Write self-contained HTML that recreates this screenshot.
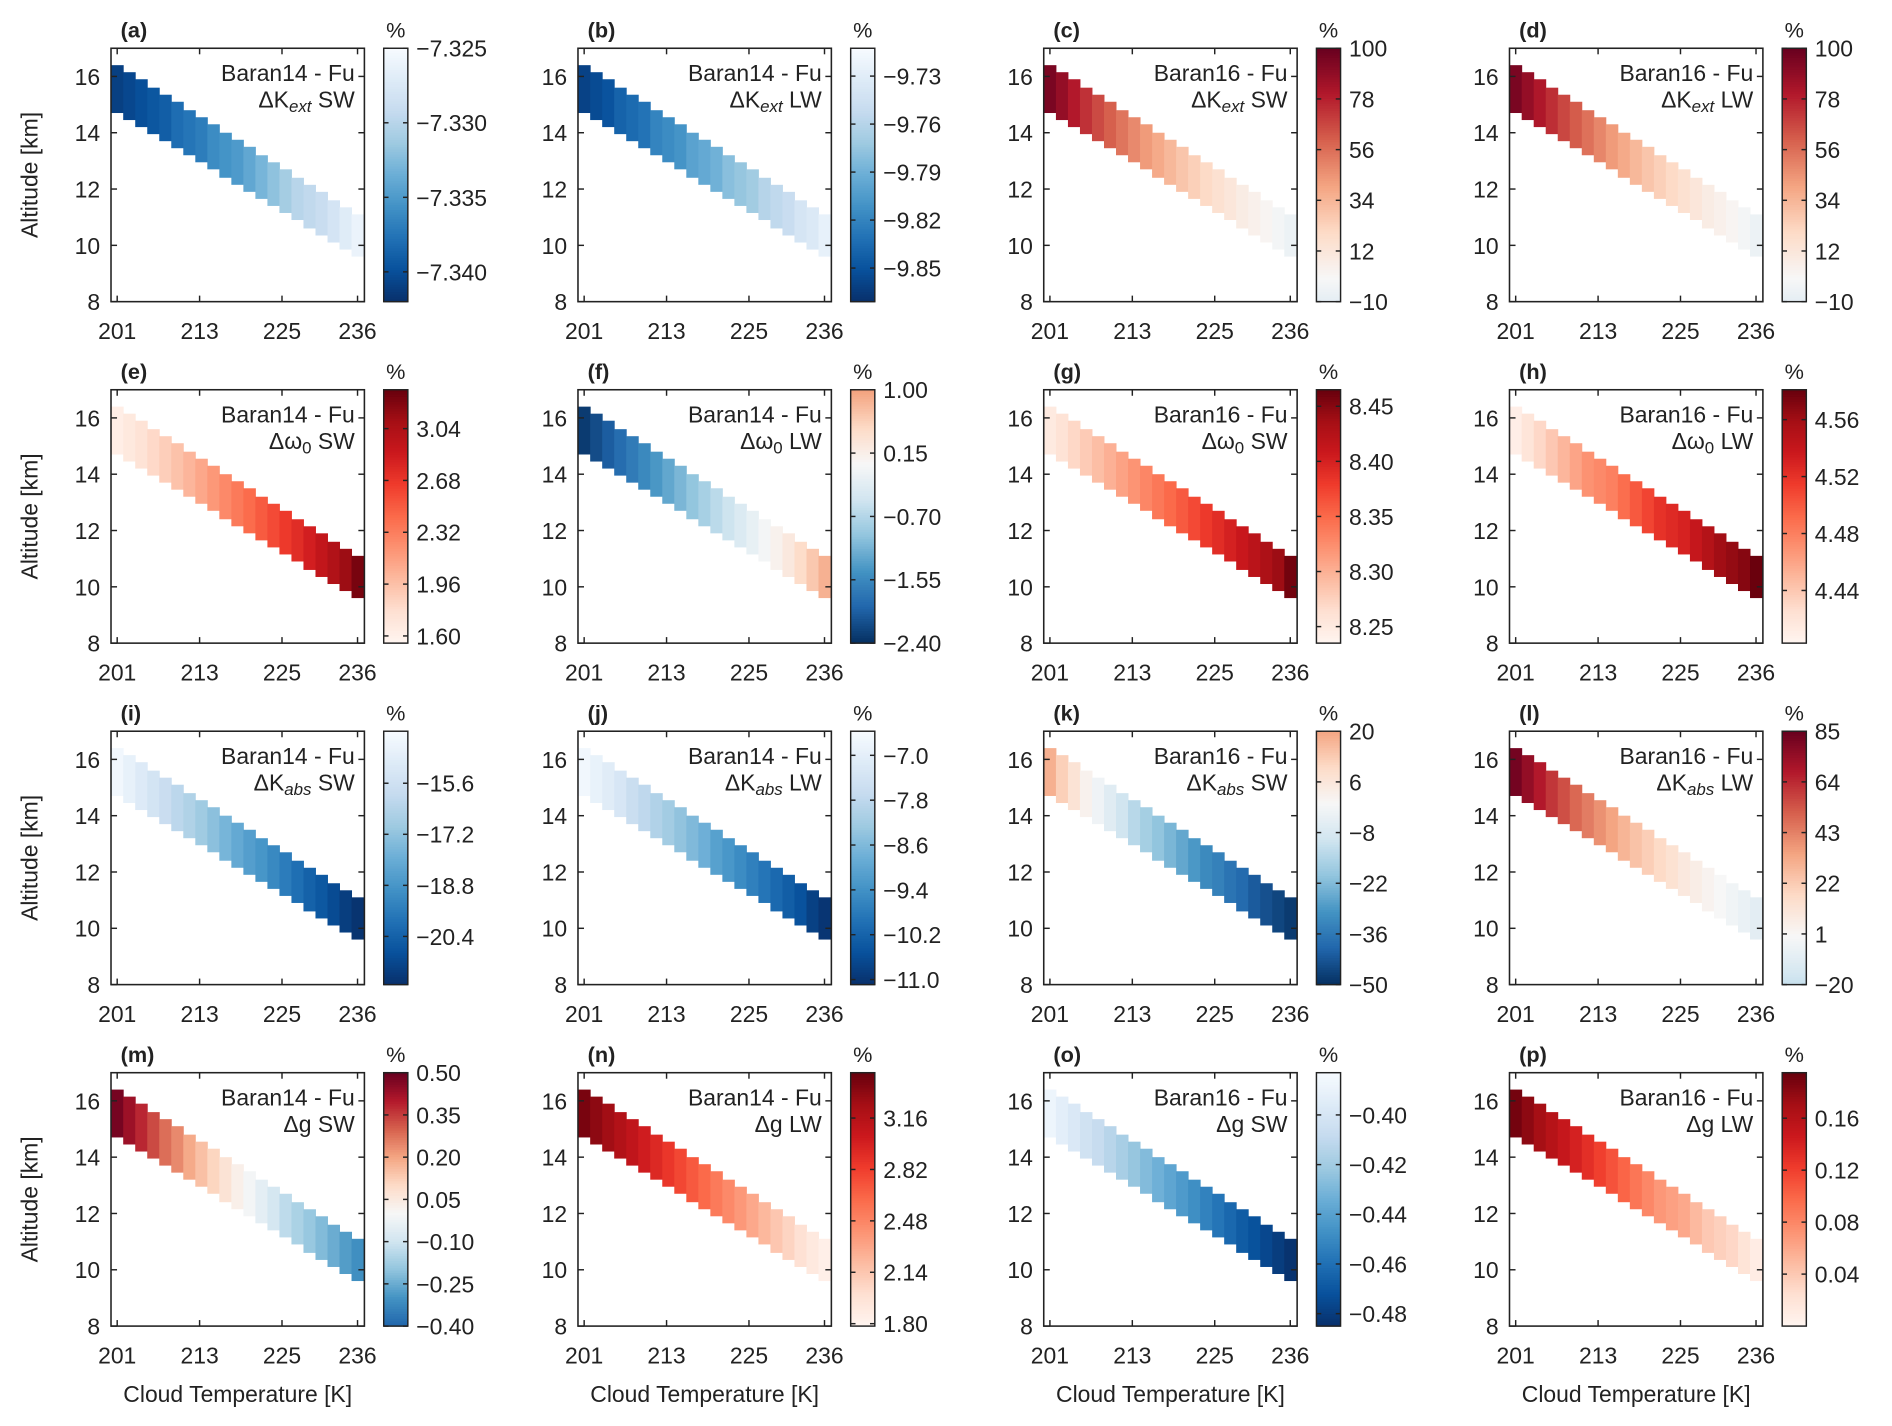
<!DOCTYPE html>
<html><head><meta charset="utf-8"><style>
html,body{margin:0;padding:0;background:#fff}
svg{display:block;font-family:"Liberation Sans",Arial,sans-serif}
</style></head><body>
<svg id="fig" width="1892" height="1426" viewBox="0 0 1568 1181.8" preserveAspectRatio="none" xmlns="http://www.w3.org/2000/svg"></svg>
<script>
// ---- data ----
const colTemps = [201,202.75,204.5,206.25,208,209.75,211.5,213.25,215,216.75,218.5,220.25,222,223.75,225.5,227.25,229,230.75,232.5,234.25,236];
const altTop = [16.4,16.15,15.9,15.6,15.35,15.1,14.8,14.55,14.3,14.0,13.75,13.5,13.2,12.95,12.7,12.4,12.15,11.9,11.6,11.35,11.1];
const altBot = [14.7,14.45,14.2,13.95,13.7,13.45,13.2,12.95,12.7,12.4,12.15,11.9,11.65,11.4,11.15,10.9,10.6,10.35,10.1,9.85,9.6];
const xTicks = [201,213,225,236];
const yTicks = [8,10,12,14,16];
const panelLetters = ['a','b','c','d','e','f','g','h','i','j','k','l','m','n','o','p'];
const panelModels = ['Baran14 - Fu','Baran14 - Fu','Baran16 - Fu','Baran16 - Fu','Baran14 - Fu','Baran14 - Fu','Baran16 - Fu','Baran16 - Fu','Baran14 - Fu','Baran14 - Fu','Baran16 - Fu','Baran16 - Fu','Baran14 - Fu','Baran14 - Fu','Baran16 - Fu','Baran16 - Fu'];
const panelVars = ['Kext','Kext','Kext','Kext','w0','w0','w0','w0','Kabs','Kabs','Kabs','Kabs','g','g','g','g'];
const panelBands = ['SW','LW','SW','LW','SW','LW','SW','LW','SW','LW','SW','LW','SW','LW','SW','LW'];
const cbMin = [-7.342,-9.871,-10,-10,1.55,-2.40,8.235,4.403,-21.91,-11.09,-50,-20,-0.40,1.784,-0.485,0.0];
const cbMax = [-7.325,-9.7126,100,100,3.31,1.00,8.465,4.581,-13.97,-6.57,20,85,0.50,3.46,-0.383,0.195];
const cbTicks = [
 [-7.325,-7.330,-7.335,-7.340],[-9.73,-9.76,-9.79,-9.82,-9.85],[100,78,56,34,12,-10],[100,78,56,34,12,-10],
 [3.04,2.68,2.32,1.96,1.60],[1.00,0.15,-0.70,-1.55,-2.40],[8.45,8.40,8.35,8.30,8.25],[4.56,4.52,4.48,4.44],
 [-15.6,-17.2,-18.8,-20.4],[-7.0,-7.8,-8.6,-9.4,-10.2,-11.0],[20,6,-8,-22,-36,-50],[85,64,43,22,1,-20],
 [0.50,0.35,0.20,0.05,-0.10,-0.25,-0.40],[3.16,2.82,2.48,2.14,1.80],[-0.40,-0.42,-0.44,-0.46,-0.48],[0.16,0.12,0.08,0.04]];
const cbTickLabels = [
 ['−7.325','−7.330','−7.335','−7.340'],['−9.73','−9.76','−9.79','−9.82','−9.85'],['100','78','56','34','12','−10'],['100','78','56','34','12','−10'],
 ['3.04','2.68','2.32','1.96','1.60'],['1.00','0.15','−0.70','−1.55','−2.40'],['8.45','8.40','8.35','8.30','8.25'],['4.56','4.52','4.48','4.44'],
 ['−15.6','−17.2','−18.8','−20.4'],['−7.0','−7.8','−8.6','−9.4','−10.2','−11.0'],['20','6','−8','−22','−36','−50'],['85','64','43','22','1','−20'],
 ['0.50','0.35','0.20','0.05','−0.10','−0.25','−0.40'],['3.16','2.82','2.48','2.14','1.80'],['−0.40','−0.42','−0.44','−0.46','−0.48'],['0.16','0.12','0.08','0.04']];
const valsA = [-7.341,-7.3405,-7.340,-7.3395,-7.339,-7.338,-7.3375,-7.337,-7.336,-7.3355,-7.335,-7.334,-7.333,-7.332,-7.331,-7.330,-7.3295,-7.329,-7.328,-7.327,-7.326];
const valsB = [-9.86,-9.855,-9.85,-9.84,-9.835,-9.83,-9.82,-9.815,-9.81,-9.80,-9.795,-9.79,-9.78,-9.775,-9.77,-9.76,-9.755,-9.75,-9.74,-9.735,-9.725];
const valsC = [95,88,80,73,66,60,54,48,43,38,33,28,24,20,16,12,8,5,2,-2,-6];
const valsD = [95,88,81,74,67,61,55,49,43,38,33,28,24,20,16,12,8,5,2,-2,-6];
const valsE = [1.62,1.68,1.74,1.81,1.88,1.95,2.02,2.1,2.18,2.26,2.34,2.42,2.5,2.58,2.66,2.74,2.83,2.92,3.02,3.12,3.25];
const valsF = [-2.3,-2.15,-2.0,-1.85,-1.7,-1.55,-1.4,-1.25,-1.1,-0.95,-0.8,-0.65,-0.5,-0.35,-0.2,-0.05,0.1,0.25,0.45,0.65,0.85];
const valsG = [8.25,8.26,8.27,8.28,8.29,8.30,8.31,8.32,8.33,8.34,8.35,8.36,8.37,8.38,8.39,8.40,8.41,8.42,8.43,8.44,8.46];
const valsH = [4.41,4.42,4.43,4.44,4.45,4.46,4.47,4.475,4.48,4.49,4.50,4.51,4.52,4.525,4.53,4.54,4.55,4.56,4.565,4.57,4.58];
const valsI = [-14.2,-14.6,-15.0,-15.4,-15.8,-16.2,-16.5,-16.9,-17.3,-17.7,-18.1,-18.5,-18.8,-19.2,-19.6,-20.0,-20.4,-20.7,-21.1,-21.5,-21.8];
const valsJ = [-6.7,-6.9,-7.1,-7.3,-7.6,-7.8,-8.0,-8.2,-8.4,-8.6,-8.8,-9.1,-9.3,-9.5,-9.7,-9.9,-10.1,-10.3,-10.5,-10.8,-11.0];
const valsK = [18,12,7,2,-2,-6,-10,-14,-17,-20,-23,-26,-29,-32,-34,-37,-39,-42,-44,-46,-48];
const valsL = [82,75,68,61,55,49,44,39,34,29,25,21,17,13,9,6,3,0,-3,-6,-9];
const valsM = [0.48,0.43,0.38,0.33,0.28,0.24,0.19,0.15,0.11,0.07,0.03,-0.01,-0.05,-0.09,-0.13,-0.16,-0.19,-0.22,-0.25,-0.28,-0.31];
const valsN = [3.4,3.33,3.26,3.18,3.1,3.02,2.94,2.86,2.78,2.7,2.62,2.54,2.46,2.38,2.3,2.22,2.14,2.06,1.98,1.9,1.84];
const valsO = [-0.388,-0.393,-0.398,-0.403,-0.408,-0.413,-0.418,-0.423,-0.428,-0.433,-0.438,-0.443,-0.448,-0.453,-0.458,-0.463,-0.468,-0.472,-0.476,-0.480,-0.484];
const valsP = [0.19,0.18,0.17,0.16,0.15,0.14,0.13,0.12,0.11,0.10,0.09,0.08,0.07,0.065,0.06,0.05,0.04,0.035,0.03,0.02,0.01];
const panelVals = [valsA,valsB,valsC,valsD,valsE,valsF,valsG,valsH,valsI,valsJ,valsK,valsL,valsM,valsN,valsO,valsP];

// ---- layout ----
const NS = 'http://www.w3.org/2000/svg';
const svg = document.getElementById('fig');
const colX = [92,479,865,1251], rowY = [40,323,606,889];
const AW = 210, AH = 210, CBW = 20, CBOFF = 226;
const X0 = 200.1, X1 = 237.0, Y0 = 8, Y1 = 17;
const FG = '#222';

function el(tag, attrs, parent){ const e = document.createElementNS(NS, tag); for(const k in attrs) e.setAttribute(k, attrs[k]); (parent||svg).appendChild(e); return e; }
function hex(h){ return [parseInt(h.slice(1,3),16),parseInt(h.slice(3,5),16),parseInt(h.slice(5,7),16)]; }
function ramp(stops, t){ t=Math.max(0,Math.min(1,t)); const n=stops.length-1; const f=t*n; const i=Math.min(n-1,Math.floor(f)); const u=f-i; const a=hex(stops[i]), b=hex(stops[i+1]); return 'rgb('+a.map((v,k)=>Math.round(v+(b[k]-v)*u)).join(',')+')'; }
const BLUES = ['#f7fbff','#deebf7','#c6dbef','#9ecae1','#6baed6','#4292c6','#2171b5','#08519c','#08306b'];
const REDS = ['#fff5f0','#fee0d2','#fcbba1','#fc9272','#fb6a4a','#ef3b2c','#cb181d','#a50f15','#67000d'];
const RDBU = ['#053061','#2166ac','#4393c3','#92c5de','#d1e5f0','#f7f7f7','#fddbc7','#f4a582','#d6604d','#b2182b','#67001f'];
function colorFor(p, v){
  const lo = cbMin[p], hi = cbMax[p];
  if (hi <= 0) return ramp(BLUES, (hi - v)/(hi - lo));
  if (lo >= 0) return ramp(REDS, (v - lo)/(hi - lo));
  const M = Math.max(Math.abs(lo), Math.abs(hi));
  return ramp(RDBU, (v/M + 1)/2);
}
function varLabel(g, x, y, vr, band){
  const t = el('text', {x:x, y:y, 'text-anchor':'end', 'font-size':19, fill:FG}, g);
  t.appendChild(document.createTextNode(vr==='w0' ? 'Δω' : (vr==='g' ? 'Δg ' : 'ΔK')));
  if (vr==='Kext' || vr==='Kabs'){
    const s = el('tspan', {'font-style':'italic', 'font-size':14, dy:4}, t); s.textContent = vr==='Kext'?'ext':'abs';
    const r = el('tspan', {dy:-4}, t); r.textContent = ' ' + band;
  } else if (vr==='w0'){
    const s = el('tspan', {'font-size':14, dy:4}, t); s.textContent = '0';
    const r = el('tspan', {dy:-4}, t); r.textContent = ' ' + band;
  } else {
    t.appendChild(document.createTextNode(band));
  }
}

for (let p = 0; p < 16; p++){
  const r = Math.floor(p/4), c = p % 4;
  const ax = colX[c], ay = rowY[r];
  const sx = v => ax + (v - X0)/(X1 - X0)*AW;
  const sy = v => ay + AH - (v - Y0)/(Y1 - Y0)*AH;
  const g = el('g', {});
  
  
  // cells
  const vals = panelVals[p];
  for (let i = 0; i < colTemps.length; i++){
    const xa = sx(colTemps[i]-0.875), xb = sx(colTemps[i]+0.875);
    const ya = sy(altTop[i]), yb = sy(altBot[i]);
    const rc = el('rect', {x:xa, y:ya, width:xb-xa+0.4, height:yb-ya, fill:colorFor(p, vals[i])}, g);
    
    
  }
  // frame
  const fr = el('rect', {x:ax, y:ay, width:AW, height:AH, fill:'none', stroke:FG, 'stroke-width':1.3}, g);
  
  
  // ticks
  xTicks.forEach(t => {
    const x = sx(t);
    el('line', {x1:x, x2:x, y1:ay+AH, y2:ay+AH-5, stroke:FG, 'stroke-width':1.2}, g);
    el('line', {x1:x, x2:x, y1:ay, y2:ay+5, stroke:FG, 'stroke-width':1.2}, g);
    const tl = el('text', {x:x, y:ay+AH+31, 'text-anchor':'middle', 'font-size':19, fill:FG}, g);
    tl.textContent = t;
    
    
  });
  yTicks.forEach(t => {
    const y = sy(t);
    el('line', {x1:ax, x2:ax+5, y1:y, y2:y, stroke:FG, 'stroke-width':1.2}, g);
    el('line', {x1:ax+AW, x2:ax+AW-5, y1:y, y2:y, stroke:FG, 'stroke-width':1.2}, g);
    const tl = el('text', {x:ax-9, y:y+7, 'text-anchor':'end', 'font-size':19, fill:FG}, g);
    tl.textContent = t;
    
    
  });
  // labels
  const lt = el('text', {x:ax+8, y:ay-9, 'font-size':18, 'font-weight':'bold', fill:FG}, g);
  lt.textContent = '(' + panelLetters[p] + ')';
  
  
  const mt = el('text', {x:ax+202, y:ay+27, 'text-anchor':'end', 'font-size':19, fill:FG}, g);
  mt.textContent = panelModels[p];
  
  
  varLabel(g, ax+202, ay+49, panelVars[p], panelBands[p]);
  // colorbar
  const cx = ax + CBOFF;
  const cb = el('g', {}, g);
  
  
  const N = 105;
  for (let k = 0; k < N; k++){
    const v = cbMax[p] - (k + 0.5)/N*(cbMax[p]-cbMin[p]);
    el('rect', {x:cx, y:ay + k*AH/N, width:CBW, height:AH/N + 0.5, fill:colorFor(p, v)}, cb);
  }
  el('rect', {x:cx, y:ay, width:CBW, height:AH, fill:'none', stroke:FG, 'stroke-width':1.2}, cb);
  const cy = v => ay + (cbMax[p] - v)/(cbMax[p]-cbMin[p])*AH;
  cbTicks[p].forEach((t, k) => {
    const y = cy(t);
    el('line', {x1:cx+CBW, x2:cx+CBW-4, y1:y, y2:y, stroke:FG, 'stroke-width':1.2}, cb);
    el('line', {x1:cx, x2:cx+4, y1:y, y2:y, stroke:FG, 'stroke-width':1.2}, cb);
    const tl = el('text', {x:cx+CBW+7, y:y+7, 'font-size':19, fill:FG}, cb);
    tl.textContent = cbTickLabels[p][k];
    
    
  });
  const pc = el('text', {x:cx+10, y:ay-9, 'text-anchor':'middle', 'font-size':18, fill:FG}, cb);
  pc.textContent = '%';
  
  
  if (c === 0){
    const yl = el('text', {x:0, y:0, transform:'translate(31,'+(ay+AH/2)+') rotate(-90)', 'text-anchor':'middle', 'font-size':19, fill:FG}, g);
    yl.textContent = 'Altitude [km]';
    
    
  }
  if (r === 3){
    const xl = el('text', {x:ax+AW/2, y:1162, 'text-anchor':'middle', 'font-size':19, fill:FG}, g);
    xl.textContent = 'Cloud Temperature [K]';
    
    
  }
}
</script>
</body></html>
